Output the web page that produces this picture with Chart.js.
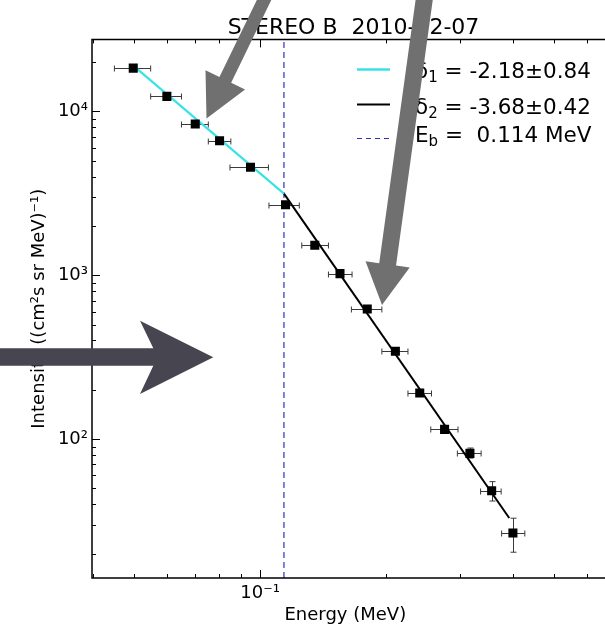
<!DOCTYPE html>
<html>
<head>
<meta charset="utf-8">
<title>STEREO B 2010-02-07</title>
<script src="https://cdn.jsdelivr.net/npm/chart.js@4.4.0/dist/chart.umd.min.js"></script>
<style>
  html, body { margin: 0; padding: 0; background: #fff; overflow: hidden; }
  #chart { display: block; }
</style>
</head>
<body>
<canvas id="chart" width="605" height="626"></canvas>
<script>
// measured spectrum, energy in MeV, intensity in (cm2 s sr MeV)^-1
var energy    = [0.0499, 0.0600, 0.0701, 0.0801, 0.0949, 0.1150, 0.1350, 0.1550, 0.1800, 0.2100, 0.2400, 0.2750, 0.3160, 0.3560, 0.4000];
var intensity = [18360, 12350, 8370, 6625, 4555, 2690, 1524, 1023, 623, 344, 191, 114.6, 81.8, 48.4, 26.7];
// energy channel bounds (horizontal bars)
var energyLo  = [0.0450, 0.0549, 0.0650, 0.0753, 0.0848, 0.1050, 0.1257, 0.1455, 0.1650, 0.1950, 0.2250, 0.2550, 0.2950, 0.3350, 0.3760];
var energyHi  = [0.0549, 0.0650, 0.0753, 0.0852, 0.1047, 0.1240, 0.1455, 0.1656, 0.1950, 0.2250, 0.2560, 0.2960, 0.3360, 0.3750, 0.4270];
// intensity errors (vertical bars)
var intensityLo = [18000, 12100, 8200, 6500, 4460, 2630, 1490, 1000, 608, 335, 185, 109, 76.6, 41.9, 20.4];
var intensityHi = [18700, 12600, 8540, 6750, 4650, 2750, 1560, 1046, 638, 353, 197, 120, 88.2, 55.0, 32.9];

// broken power law fit
var fit1Energy = [0.0499, 0.114];
var fit1Intensity = [19000, 3150];
var fit2Energy = [0.114, 0.392];
var fit2Intensity = [3150, 33];
var breakEnergy = 0.114;

var xMajor = [0.1];
var yMajor = [100, 1000, 10000];
var xMin = 0.0398, xMax = 0.64;
var yMin = 14.2, yMax = 27500;
var decadeWidth = 420; // px per decade on the energy axis

var titleText = 'STEREO B  2010-02-07';
var legendText = [
  ['\u03b4', '1', ' = -2.18\u00b10.84'],
  ['\u03b4', '2', ' = -3.68\u00b10.42'],
  ['E', 'b', ' =  0.114 MeV']
];

var FONT = "'DejaVu Sans'";

function toPoints(xs, ys) {
  var out = [];
  for (var i = 0; i < xs.length; i++) out.push({x: xs[i], y: ys[i]});
  return out;
}

function supStr(n) {
  var map = {'-': '\u207b', '0': '\u2070', '1': '\u00b9', '2': '\u00b2', '3': '\u00b3', '4': '\u2074', '5': '\u2075', '6': '\u2076', '7': '\u2077', '8': '\u2078', '9': '\u2079'};
  return String(n).split('').map(function(c) { return map[c]; }).join('');
}

function powLabel(v) {
  return '10' + supStr(Math.round(Math.log10(v)));
}

// error bars under the markers
var errorBars = {
  id: 'errorBars',
  beforeDatasetsDraw: function(chart) {
    var ctx = chart.ctx, xs = chart.scales.x, ys = chart.scales.y;
    ctx.save();
    ctx.strokeStyle = '#3a3a3a';
    ctx.lineWidth = 1;
    ctx.beginPath();
    for (var i = 0; i < energy.length; i++) {
      var px = Math.round(xs.getPixelForValue(energy[i])) + 0.5;
      var py = Math.round(ys.getPixelForValue(intensity[i])) + 0.5;
      var x0 = xs.getPixelForValue(energyLo[i]), x1 = xs.getPixelForValue(energyHi[i]);
      var y0 = ys.getPixelForValue(intensityLo[i]), y1 = ys.getPixelForValue(intensityHi[i]);
      ctx.moveTo(x0, py); ctx.lineTo(x1, py);
      ctx.moveTo(x0, py - 3); ctx.lineTo(x0, py + 3);
      ctx.moveTo(x1, py - 3); ctx.lineTo(x1, py + 3);
      ctx.moveTo(px, y0); ctx.lineTo(px, y1);
      ctx.moveTo(px - 3, y0); ctx.lineTo(px + 3, y0);
      ctx.moveTo(px - 3, y1); ctx.lineTo(px + 3, y1);
    }
    ctx.stroke();
    ctx.restore();
  }
};

// axis lines and inward ticks like matplotlib (right spine is cut off in the original)
var frame = {
  id: 'frame',
  afterDatasetsDraw: function(chart) {
    var a = chart.chartArea, ctx = chart.ctx, xs = chart.scales.x, ys = chart.scales.y;
    var e, m, v, p, len;
    ctx.save();
    // keep the cut right edge clean
    ctx.fillStyle = '#fff';
    ctx.fillRect(chart.width - 4, a.top, 4, a.bottom - a.top);
    ctx.strokeStyle = '#000';
    ctx.lineWidth = 1;
    ctx.beginPath();
    for (e = -2; e <= 0; e++) {
      for (m = 1; m < 10; m++) {
        v = m * Math.pow(10, e);
        if (v <= xs.min || v >= xs.max) continue;
        p = Math.round(xs.getPixelForValue(v)) + 0.5;
        len = m == 1 ? 8 : 4;
        ctx.moveTo(p, a.bottom); ctx.lineTo(p, a.bottom - len);
        ctx.moveTo(p, a.top); ctx.lineTo(p, a.top + len);
      }
    }
    for (e = 1; e <= 4; e++) {
      for (m = 1; m < 10; m++) {
        v = m * Math.pow(10, e);
        if (v <= yMin || v >= yMax) continue;
        p = Math.round(ys.getPixelForValue(v)) + 0.5;
        len = m == 1 ? 8 : 4;
        ctx.moveTo(a.left, p); ctx.lineTo(a.left + len, p);
      }
    }
    ctx.stroke();
    ctx.lineWidth = 1.5;
    ctx.beginPath();
    ctx.moveTo(chart.width + 5, a.top);
    ctx.lineTo(a.left, a.top);
    ctx.lineTo(a.left, a.bottom);
    ctx.lineTo(chart.width + 5, a.bottom);
    ctx.stroke();
    ctx.restore();
  }
};

function legendRow(ctx, y, baseline, color, dash, width, parts) {
  ctx.save();
  ctx.strokeStyle = color;
  ctx.lineWidth = width;
  ctx.setLineDash(dash);
  ctx.beginPath();
  ctx.moveTo(357, y); ctx.lineTo(390, y);
  ctx.stroke();
  ctx.restore();

  ctx.fillStyle = '#000';
  ctx.textAlign = 'left';
  ctx.textBaseline = 'alphabetic';
  var x = 415;
  ctx.font = '21.5px ' + FONT;
  ctx.fillText(parts[0], x, baseline);
  x += ctx.measureText(parts[0]).width;
  ctx.font = '15px ' + FONT;
  ctx.fillText(parts[1], x, baseline + 4);
  x += ctx.measureText(parts[1]).width;
  ctx.font = '21.5px ' + FONT;
  ctx.fillText(parts[2], x, baseline);
}

function arrow(ctx, tx, ty, px, py, headLen, shaft, head, color) {
  var dx = px - tx, dy = py - ty, l = Math.sqrt(dx * dx + dy * dy);
  var ux = dx / l, uy = dy / l, nx = -uy, ny = ux;
  var bx = px - ux * headLen, by = py - uy * headLen;
  ctx.beginPath();
  ctx.moveTo(tx + nx * shaft, ty + ny * shaft);
  ctx.lineTo(bx + nx * shaft, by + ny * shaft);
  ctx.lineTo(bx + nx * head, by + ny * head);
  ctx.lineTo(px, py);
  ctx.lineTo(bx - nx * head, by - ny * head);
  ctx.lineTo(bx - nx * shaft, by - ny * shaft);
  ctx.lineTo(tx - nx * shaft, ty - ny * shaft);
  ctx.closePath();
  ctx.fillStyle = color;
  ctx.fill();
}

// title, legend and the pointer arrows that sit on top of the figure
var overlay = {
  id: 'overlay',
  afterDraw: function(chart) {
    var ctx = chart.ctx;
    ctx.save();
    ctx.fillStyle = '#000';
    ctx.font = '22px ' + FONT;
    ctx.textAlign = 'center';
    ctx.textBaseline = 'alphabetic';
    ctx.fillText(titleText, 353.5, 33.5);
    ctx.restore();

    legendRow(ctx, 69.5, 78, '#38e2e6', [], 2.5, legendText[0]);
    legendRow(ctx, 104.5, 113.5, '#000', [], 2, legendText[1]);
    legendRow(ctx, 138.5, 142, '#2f2fbf', [5, 4], 1, legendText[2]);

    ctx.save();
    arrow(ctx, 267, -6, 206.5, 118.5, 43, 6.5, 22, '#707070');
    arrow(ctx, 425, -6, 382, 305, 41, 8.5, 22.3, '#707070');

    ctx.beginPath();
    ctx.moveTo(-2, 348.3);
    ctx.lineTo(153.3, 348.3);
    ctx.lineTo(140, 320.7);
    ctx.lineTo(213.3, 357.3);
    ctx.lineTo(140, 394);
    ctx.lineTo(153.3, 365.7);
    ctx.lineTo(-2, 365.7);
    ctx.closePath();
    ctx.fillStyle = '#47454f';
    ctx.fill();
    ctx.restore();
  }
};

var chart = new Chart(document.getElementById('chart'), {
  type: 'scatter',
  data: {
    datasets: [
      {
        label: 'data',
        data: toPoints(energy, intensity),
        showLine: false,
        pointStyle: 'rect',
        pointRadius: 6.4,
        backgroundColor: '#000',
        borderColor: '#000',
        borderWidth: 0
      },
      {
        label: 'fit1',
        data: toPoints(fit1Energy, fit1Intensity),
        showLine: true,
        borderColor: '#38e2e6',
        borderWidth: 2.2,
        pointRadius: 0
      },
      {
        label: 'fit2',
        data: toPoints(fit2Energy, fit2Intensity),
        showLine: true,
        borderColor: '#000',
        borderWidth: 2,
        pointRadius: 0
      },
      {
        label: 'Eb',
        data: [{x: breakEnergy, y: yMin}, {x: breakEnergy, y: yMax}],
        showLine: true,
        borderColor: '#2f2fbf',
        borderWidth: 1.2,
        borderDash: [6, 4],
        pointRadius: 0
      }
    ]
  },
  options: {
    responsive: false,
    animation: false,
    devicePixelRatio: 1,
    layout: { padding: { left: 0, right: 0, top: 39.4, bottom: 0 } },
    plugins: {
      legend: { display: false },
      tooltip: { enabled: false },
      title: { display: false }
    },
    scales: {
      x: {
        type: 'logarithmic',
        min: xMin,
        max: xMax,
        grid: { display: false, drawTicks: false },
        border: { display: false },
        afterBuildTicks: function(scale) {
          scale.ticks = xMajor.map(function(v) { return {value: v}; });
        },
        afterFit: function(scale) { scale.height = 48; },
        ticks: {
          autoSkip: false,
          maxRotation: 0,
          padding: 5,
          color: '#000',
          font: { family: FONT, size: 18 },
          callback: powLabel
        },
        title: {
          display: true,
          text: 'Energy (MeV)',
          color: '#000',
          font: { family: FONT, size: 18 },
          padding: { top: 0, bottom: 0 }
        }
      },
      y: {
        type: 'logarithmic',
        min: yMin,
        max: yMax,
        grid: { display: false, drawTicks: false },
        border: { display: false },
        afterBuildTicks: function(scale) {
          scale.ticks = yMajor.map(function(v) { return {value: v}; });
        },
        afterFit: function(scale) { scale.width = 92; },
        ticks: {
          autoSkip: false,
          padding: 4,
          color: '#000',
          font: { family: FONT, size: 18 },
          callback: powLabel
        },
        title: {
          display: true,
          text: 'Intensity ((cm\u00b2s sr MeV)\u207b\u00b9)',
          color: '#000',
          font: { family: FONT, size: 18 },
          padding: { top: 28.6, bottom: 0 }
        }
      }
    }
  },
  plugins: [errorBars, frame, overlay]
});

// the original axis runs past the cut edge: pick the visible upper energy so a decade keeps its width
var area = chart.chartArea;
chart.options.scales.x.max = xMin * Math.pow(10, (area.right - area.left) / decadeWidth);
chart.update();
</script>
</body>
</html>
